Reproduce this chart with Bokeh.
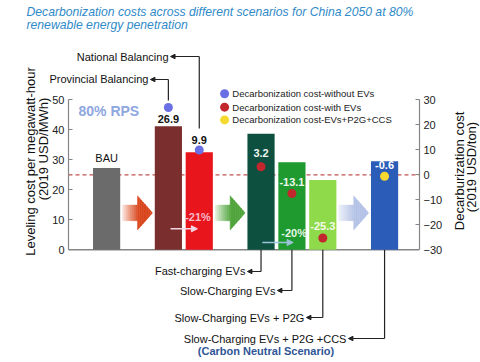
import numpy as np
from bokeh.plotting import figure
from bokeh.models import (Range1d, LinearAxis, FixedTicker, LabelSet,
                          ColumnDataSource, Arrow, NormalHead)
from bokeh.core.properties import value
from bokeh.embed import file_html
from bokeh.resources import INLINE

# ---------------- data ----------------
scenarios = ["BAU", "Provincial Balancing", "National Balancing", "Fast-charging EVs",
             "Slow-Charging EVs", "Slow-Charging EVs + P2G", "Slow-Charging EVs + P2G +CCS"]
slots = [0, 2, 3, 5, 6, 7, 9]
leveling_cost = [27.3, 41.2, 32.5, 38.7, 29.2, 23.3, 29.5]          # USD/MWh (left axis)
bar_colors = ["#6B6B6B", "#7A2E2E", "#E8161C", "#0D5040", "#1F9A2F", "#8FDA4B", "#2B5CB8"]

without_evs_slots = [2, 3]
cost_without_evs = [26.9, 9.9]                                        # USD/ton (right axis)
with_evs_slots = [5, 6, 7]
cost_with_evs = [3.2, -7.5, -25.3]
ccs_slots = [9]
cost_evs_p2g_ccs = [-0.6]

value_labels = ["26.9", "9.9", "3.2", "-13.1", "-25.3", "-0.6"]
left_ticks = [0, 10, 20, 30, 40, 50]
right_ticks = [-30, -20, -10, 0, 10, 20, 30]
legend_labels = ["Decarbonization cost-without EVs", "Decarbonization cost-with EVs",
                 "Decarbonization cost-EVs+P2G+CCS"]
reduction_labels = ["-21%", "-20%"]

# ---------------- layout ----------------
FONT = "Liberation Sans"
W, H = 480, 362
X0, X1 = -2.788, 10.131      # frame x extent (slots)
AX_L = -1.234                # left axis position (slots)
y_lo, y_hi = -37.57, 83.1
to_right = lambda v: (v - 25.0) * 1.2

p = figure(width=W, height=H, output_backend="svg", toolbar_location=None,
           x_range=Range1d(X0, X1), y_range=Range1d(y_lo, y_hi),
           min_border_left=20, min_border_right=61, min_border_top=0, min_border_bottom=0)
p.extra_y_ranges = {"dec": Range1d(to_right(y_lo), to_right(y_hi))}
p.xaxis.visible = False
p.yaxis.visible = False
p.grid.visible = False
p.outline_line_color = None
p.background_fill_color = "white"
p.border_fill_color = "white"

def style_axis(ax):
    ax.axis_line_color = "#858585"
    ax.axis_line_width = 1.2
    ax.major_tick_line_color = "#858585"
    ax.major_tick_in = 4
    ax.major_tick_out = 0
    ax.minor_tick_line_color = None
    ax.major_label_text_font = FONT
    ax.major_label_text_font_size = "11px"
    ax.major_label_text_color = "#222222"

la = LinearAxis(bounds=(0, 50), ticker=FixedTicker(ticks=left_ticks), major_label_standoff=4,
                fixed_location=AX_L)
style_axis(la)
p.add_layout(la, "left")
ra = LinearAxis(y_range_name="dec", bounds=(-30, 30), ticker=FixedTicker(ticks=right_ticks),
                major_label_standoff=4)
style_axis(ra)
p.add_layout(ra, "right")

# baseline and dashed reference
p.line([AX_L, X1], [0, 0], line_color="#858585", line_width=1.5)
p.line([AX_L, X1], [25, 25], line_color="#C0504D", line_width=1.3, line_dash="4 3")

# ---------------- block arrows (gradient strips) ----------------
def hex2rgb(h):
    h = h.lstrip("#")
    return np.array([int(h[i:i + 2], 16) for i in (0, 2, 4)], dtype=float)

def rgb2hex(c):
    return "#%02x%02x%02x" % tuple(int(round(v)) for v in c)

def block_arrow(xc, yc, c0, c1, n=16):
    length, body_h, head_h = 0.97, 2.6, 5.7
    x0 = xc - length / 2
    xs, ys, cols = [], [], []
    a, b = hex2rgb(c0), hex2rgb(c1)
    def h(u, head):
        return head_h * (1 - u) / 0.5 if head else body_h
    for i in range(n):
        u0, u1 = i / n, (i + 1) / n
        head = u0 >= 0.5
        h0, h1 = h(u0, head), h(u1, head)
        xa, xb = x0 + u0 * length, x0 + u1 * length
        xs.append([xa, xb, xb, xa])
        ys.append([yc - h0, yc - h1, yc + h1, yc + h0])
        t = min(1.0, ((u0 + u1) / 2) / 0.55) ** 0.9
        cols.append(rgb2hex(a + (b - a) * t))
    p.patches(xs, ys, fill_color=cols, line_color=cols, line_width=0.5)

block_arrow(1, 12.3, "#FCEDE8", "#D9461C")
block_arrow(4, 12.3, "#EEF6E8", "#4EA33A")
block_arrow(8, 12.3, "#F1F3FB", "#B4C2E6")

# ---------------- bars ----------------
src = ColumnDataSource(dict(x=slots, top=leveling_cost, color=bar_colors, name=scenarios))
p.vbar(x="x", top="top", width=0.88, bottom=0, fill_color="color", line_color=None, source=src)

p.text(x=[slots[0]], y=[leveling_cost[0]], text=[scenarios[0]], text_align="center",
       text_baseline="bottom", y_offset=-4, text_font=value(FONT), text_font_size="11px",
       text_color="#111111")

# ---------------- dots ----------------
dot_size = 9
p.scatter(without_evs_slots, cost_without_evs, y_range_name="dec", size=dot_size,
          fill_color="#6A6FE3", line_color=None)
p.scatter(with_evs_slots, cost_with_evs, y_range_name="dec", size=dot_size,
          fill_color="#C1272D", line_color=None)
p.scatter(ccs_slots, cost_evs_p2g_ccs, y_range_name="dec", size=dot_size,
          fill_color="#F6D92E", line_color=None)

lab_x = without_evs_slots + with_evs_slots + ccs_slots
lab_y = cost_without_evs + cost_with_evs + cost_evs_p2g_ccs
lab_dy = [11, -10, -14, -12, -12, -11]
lab_col = ["#111111", "#111111", "#EEF6F2", "#EEF8EE", "#F4FBEA", "#FFFFFF"]
p.text(x=lab_x, y=lab_y, text=value_labels, y_range_name="dec", y_offset=lab_dy,
       text_align="center", text_baseline="middle", text_font=value(FONT),
       text_font_size="11px", text_font_style="bold", text_color=lab_col)

# ---------------- reduction arrows ----------------
for (xs_, xe_, yy, col) in [(2.07, 2.94, 7.0, "#F3D6E6"), (5.04, 6.04, 2.43, "#9CC3DA")]:
    p.add_layout(Arrow(end=NormalHead(size=6, fill_color=col, line_color=col),
                       x_start=xs_, y_start=yy, x_end=xe_, y_end=yy,
                       line_color=col, line_width=1.5))
p.text(x=[2.96, 6.07], y=[10.87, 5.67], text=reduction_labels, text_align="center",
       text_baseline="middle", text_font=value(FONT), text_font_size="11px",
       text_font_style="bold", text_color=["#F6B9C6", "#E4F4E4"])

p.text(x=[-0.91], y=[46.4], text=["80% RPS"], text_align="left", text_baseline="middle",
       text_font=value(FONT), text_font_size="14px", text_font_style="bold",
       text_color="#8FA7DF")

# ---------------- legend (drawn) ----------------
leg_y = [52.0, 47.55, 43.3]
p.scatter([3.82] * 3, leg_y, size=9, fill_color=["#6A6FE3", "#C1272D", "#F6D92E"], line_color=None)
p.text(x=[4.07] * 3, y=leg_y, text=legend_labels, text_baseline="middle", text_align="left",
       text_font=value(FONT), text_font_size="9.5px", text_color="#222222")

# ---------------- connectors ----------------
conn_top = [(2, 49.77, 56.77, 1.42, scenarios[1]), (3, 40.43, 64.43, 2.07, scenarios[2])]
conn_bot = [(5, 0, -7.23, 4.56, scenarios[3]), (6, 0, -13.57, 5.53, scenarios[4]),
            (7, 0, -22.57, 6.47, scenarios[5]), (9, 0, -29.57, 7.83, scenarios[6])]
tx, ty, tt = [], [], []
for (s, y0, y1, tip, name) in conn_top + conn_bot:
    p.line([s, s], [y0, y1], line_color="#222222", line_width=1.2)
    p.add_layout(Arrow(end=NormalHead(size=4.5, fill_color="#222222", line_color="#222222"),
                       x_start=s, y_start=y1, x_end=tip, y_end=y1,
                       line_color="#222222", line_width=1.2))
    tx.append(tip); ty.append(y1); tt.append(name)
p.add_layout(LabelSet(x="x", y="y", text="t", source=ColumnDataSource(dict(x=tx, y=ty, t=tt)),
                      x_offset=-2, text_align="right", text_baseline="middle",
                      text_font=value(FONT), text_font_size="11px", text_color="#111111"))
p.text(x=[5.16], y=[-33.9], text=["(Carbon Neutral Scenario)"], text_align="center",
       text_baseline="middle", text_font=value(FONT), text_font_size="11px",
       text_font_style="bold", text_color="#2F5597")

# ---------------- title & axis labels ----------------
p.text(x=[-2.594, -2.594], y=[79.43, 74.77],
       text=["Decarbonization costs across different scenarios for China 2050 at 80%",
             "renewable energy penetration"],
       text_baseline="middle", text_align="left", text_font=value(FONT),
       text_font_size="12.2px", text_font_style="italic", text_color="#2F8AC8")
p.text(x=[-2.464, -2.043], y=[29.43, 33.6],
       text=["Leveling cost per megawatt-hour", "(2019 USD/MWh)"], angle=np.pi / 2,
       text_align="center", text_baseline="middle", text_font=value(FONT),
       text_font_size="13px", text_color="#111111")
p.text(x=[11.41, 11.82], y=[26.27, 27.6],
       text=["Decarburization cost", "(2019 USD/ton)"], angle=np.pi / 2,
       text_align="center", text_baseline="middle", text_font=value(FONT),
       text_font_size="13px", text_color="#111111", level="overlay")

open("out.html", "w").write(file_html(p, INLINE))
